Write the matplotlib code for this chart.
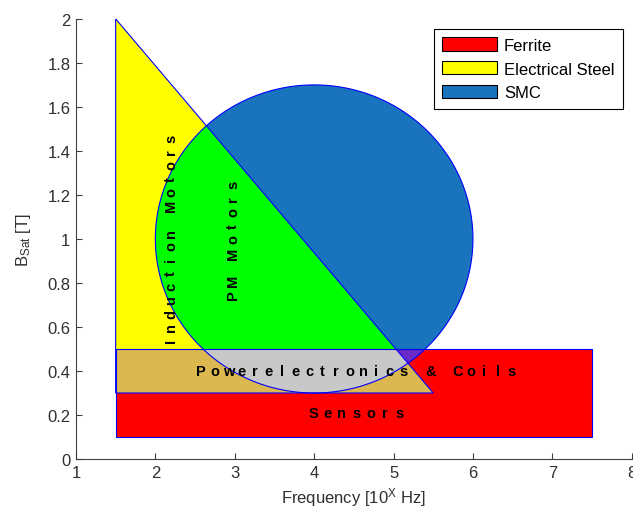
import numpy as np
import matplotlib
matplotlib.use('Agg')
import matplotlib.pyplot as plt
from matplotlib.patches import Polygon, Patch
from matplotlib.transforms import offset_copy

plt.rcParams['font.family'] = ['Liberation Sans', 'DejaVu Sans']
plt.rcParams['mathtext.default'] = 'regular'

# 数据
ferrite_x = [1.5, 7.5]          # 矩形 x 范围
ferrite_y = [0.1, 0.5]          # 矩形 y 范围
steel_x = [1.5, 1.5, 5.5]       # 三角形顶点
steel_y = [2.0, 0.3, 0.3]
smc_center = [4.0, 1.0]         # 圆心
smc_radius = [2.0, 0.7]         # x / y 半径（数据单位）

legend_labels = ['Ferrite', 'Electrical Steel', 'SMC']
c_red = '#ff0000'
c_yellow = '#ffff00'
c_blue = '#1a73bd'
c_green = '#00ff00'
c_tan = '#dcb850'
c_gray = '#c8c8c8'
c_purple = '#6a2ac8'


def clip(subject, clipper):
    # Sutherland-Hodgman, 两个都是凸多边形（逆时针）
    out = list(subject)
    n = len(clipper)
    for i in range(n):
        a = clipper[i]
        b = clipper[(i + 1) % n]
        inp = out
        out = []
        if not inp:
            break

        def inside(p):
            return (b[0] - a[0]) * (p[1] - a[1]) - (b[1] - a[1]) * (p[0] - a[0]) >= 0

        def inter(p, q):
            x1, y1 = p; x2, y2 = q; x3, y3 = a; x4, y4 = b
            d = (x1 - x2) * (y3 - y4) - (y1 - y2) * (x3 - x4)
            t = ((x1 - x3) * (y3 - y4) - (y1 - y3) * (x3 - x4)) / d
            return (x1 + t * (x2 - x1), y1 + t * (y2 - y1))

        s = inp[-1]
        for e in inp:
            if inside(e):
                if not inside(s):
                    out.append(inter(s, e))
                out.append(e)
            elif inside(s):
                out.append(inter(s, e))
            s = e
    return out


rect = [(ferrite_x[0], ferrite_y[0]), (ferrite_x[1], ferrite_y[0]),
        (ferrite_x[1], ferrite_y[1]), (ferrite_x[0], ferrite_y[1])]
tri = [(steel_x[1], steel_y[1]), (steel_x[2], steel_y[2]), (steel_x[0], steel_y[0])]
th = np.linspace(0, 2 * np.pi, 400, endpoint=False)
circ = [(smc_center[0] + smc_radius[0] * np.cos(t), smc_center[1] + smc_radius[1] * np.sin(t)) for t in th]

fig = plt.figure(figsize=(6.33, 5.10), dpi=100)
ax = fig.add_axes([0.120, 0.098, 0.878, 0.863])

ax.add_patch(Polygon(rect, closed=True, facecolor=c_red, edgecolor='none'))
ax.add_patch(Polygon(tri, closed=True, facecolor=c_yellow, edgecolor='none'))
ax.add_patch(Polygon(circ, closed=True, facecolor=c_blue, edgecolor='none'))

# 重叠区域
for poly, col in [(clip(tri, circ), c_green),
                  (clip(tri, rect), c_tan),
                  (clip(rect, circ), c_purple),
                  (clip(clip(rect, tri), circ), c_gray)]:
    if len(poly) > 2:
        ax.add_patch(Polygon(poly, closed=True, facecolor=col, edgecolor='none'))

# 轮廓线
for poly in [rect, tri, circ]:
    ax.add_patch(Polygon(poly, closed=True, facecolor='none', edgecolor='#0000ff', linewidth=0.8))


def spaced_text(x, y, s, step, vertical=False):
    # 逐字放置，模拟字间距
    for i, ch in enumerate(s):
        off = (i - (len(s) - 1) / 2) * step
        if vertical:
            tr = offset_copy(ax.transData, fig=fig, x=0, y=off, units='points')
            rot = 90
        else:
            tr = offset_copy(ax.transData, fig=fig, x=off, y=0, units='points')
            rot = 0
        ax.text(x, y, ch, transform=tr, rotation=rot, ha='center', va='center',
                fontsize=10.5, fontweight='bold', color='black')


spaced_text(2.20, 1.00, 'Induction Motors', 9.7, vertical=True)
spaced_text(2.98, 1.00, 'PM Motors', 9.9, vertical=True)
spaced_text(4.53, 0.40, 'Powerelectronics & Coils', 9.7)
spaced_text(4.53, 0.21, 'Sensors', 10.3)

ax.set_xlim(1, 8)
ax.set_ylim(0, 2)
ax.set_xticks(range(1, 9))
ax.set_yticks(np.arange(0, 2.01, 0.2))
ax.set_yticklabels(['0', '0.2', '0.4', '0.6', '0.8', '1', '1.2', '1.4', '1.6', '1.8', '2'])
ax.tick_params(direction='in', length=4, labelsize=12, colors='#404040', labelcolor='#303030', pad=4)
ax.spines['top'].set_visible(False)
ax.spines['right'].set_visible(False)
for sp in ['left', 'bottom']:
    ax.spines[sp].set_color('#404040')

ax.set_xlabel('Frequency [10$^{X}$ Hz]', fontsize=12, color='#303030', labelpad=4)
ax.set_ylabel('B$_{Sat}$ [T]', fontsize=12, color='#303030', labelpad=10)

handles = [Patch(facecolor=c, edgecolor='black', linewidth=0.8) for c in [c_red, c_yellow, c_blue]]
leg = ax.legend(handles, legend_labels, loc='upper right', bbox_to_anchor=(0.984, 0.977),
                borderaxespad=0, fontsize=12, handlelength=3.3, handleheight=0.85,
                handletextpad=0.4, borderpad=0.5, labelspacing=0.5,
                fancybox=False, framealpha=1, edgecolor='black')
leg.get_frame().set_linewidth(0.8)

plt.savefig('out.png', dpi=100)
